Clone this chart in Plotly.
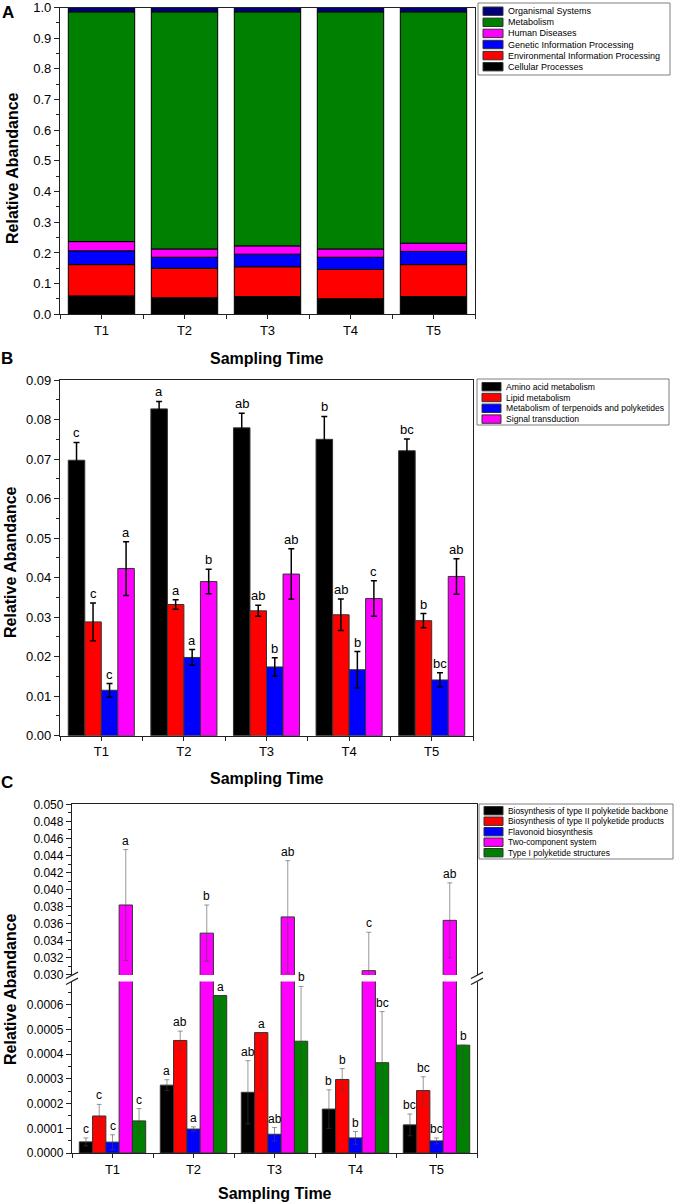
import plotly.graph_objects as go

W, H = 675, 1204
FONT = "Liberation Sans, Arial, sans-serif"

def fx(p):
    return p / W

def fy(p):
    return 1 - p / H

# ---------------- data ----------------
times = ["T1", "T2", "T3", "T4", "T5"]

# Panel A (stacked, bottom -> top)
a_names = ["Cellular Processes", "Environmental Information Processing",
           "Genetic Information Processing", "Human Diseases",
           "Metabolism", "Organismal Systems"]
a_cellular = [0.060, 0.054, 0.058, 0.051, 0.058]
a_environmental = [0.102, 0.096, 0.097, 0.095, 0.104]
a_genetic = [0.045, 0.036, 0.041, 0.040, 0.043]
a_human = [0.030, 0.027, 0.027, 0.027, 0.027]
a_metabolism = [0.749, 0.773, 0.763, 0.773, 0.754]
a_organismal = [0.014, 0.014, 0.014, 0.014, 0.014]
a_colors = ["#000000", "#FF0000", "#0000FF", "#FF00FF", "#008000", "#00007F"]

# Panel B
b_names = ["Amino acid metabolism", "Lipid metabolism",
           "Metabolism of terpenoids and polyketides", "Signal transduction"]
b_amino = [0.0697, 0.0827, 0.0779, 0.0750, 0.0721]
b_amino_err = [0.0045, 0.0019, 0.0037, 0.0058, 0.0030]
b_lipid = [0.0288, 0.0332, 0.0316, 0.0306, 0.0291]
b_lipid_err = [0.0048, 0.0012, 0.0014, 0.0040, 0.0018]
b_terp = [0.0115, 0.0198, 0.0174, 0.0167, 0.0141]
b_terp_err = [0.0017, 0.0020, 0.0023, 0.0046, 0.0018]
b_signal = [0.0423, 0.0390, 0.0409, 0.0347, 0.0403]
b_signal_err = [0.0068, 0.0031, 0.0064, 0.0045, 0.0045]
b_amino_sig = ["c", "a", "ab", "b", "bc"]
b_lipid_sig = ["c", "a", "ab", "ab", "b"]
b_terp_sig = ["c", "a", "b", "b", "bc"]
b_signal_sig = ["a", "b", "ab", "c", "ab"]
b_colors = ["#000000", "#FF0000", "#0000FF", "#FF00FF"]

# Panel C
c_names = ["Biosynthesis of type II polyketide backbone",
           "Biosynthesis of type II polyketide products",
           "Flavonoid biosynthesis", "Two-component system",
           "Type I polyketide structures"]
c_backbone = [0.000045, 0.000275, 0.000246, 0.000178, 0.000114]
c_backbone_err = [0.000016, 0.000022, 0.000128, 0.000078, 0.000044]
c_products = [0.000150, 0.000456, 0.000488, 0.000298, 0.000253]
c_products_err = [0.000047, 0.000038, 0.000231, 0.000044, 0.000056]
c_flavonoid = [0.000044, 0.000097, 0.000076, 0.000061, 0.000049]
c_flavonoid_err = [0.000030, 0.000009, 0.000027, 0.000026, 0.000012]
c_twocomp = [0.0382, 0.0349, 0.0368, 0.0305, 0.0364]
c_twocomp_err = [0.0065, 0.0033, 0.0066, 0.0045, 0.0044]
c_type1 = [0.000130, 0.000638, 0.000453, 0.000366, 0.000437]
c_type1_err = [0.000050, 0.000420, 0.000222, 0.000207, 0.000336]
c_backbone_sig = ["c", "a", "ab", "b", "bc"]
c_products_sig = ["c", "ab", "a", "b", "bc"]
c_flavonoid_sig = ["c", "a", "ab", "b", "bc"]
c_twocomp_sig = ["a", "b", "ab", "c", "ab"]
c_type1_sig = ["c", "a", "b", "bc", "b"]
c_colors = ["#000000", "#FF0000", "#0000FF", "#FF00FF", "#008000"]

# ---------------- figure ----------------
xpos = list(range(1, len(times) + 1))
fig = go.Figure()
annotations = []
shapes = []

# Panel A stacked bars
a_series = [a_cellular, a_environmental, a_genetic, a_human, a_metabolism, a_organismal]
base = [0.0] * len(times)
for name, vals, col in zip(a_names, a_series, a_colors):
    fig.add_trace(go.Bar(x=xpos, y=vals, base=list(base), name=name,
                         marker=dict(color=col, line=dict(color="#000000", width=1)),
                         width=0.8, offset=-0.4, xaxis="x", yaxis="y", showlegend=False))
    base = [b + v for b, v in zip(base, vals)]

# Panel B grouped bars
b_series = [(b_amino, b_amino_err, b_amino_sig), (b_lipid, b_lipid_err, b_lipid_sig),
            (b_terp, b_terp_err, b_terp_sig), (b_signal, b_signal_err, b_signal_sig)]
nb = len(b_series)
bw = 0.8 / nb
for k, ((vals, errs, sig), name, col) in enumerate(zip(b_series, b_names, b_colors)):
    off = -0.4 + k * bw
    fig.add_trace(go.Bar(x=xpos, y=vals, name=name, width=bw, offset=off,
                         marker=dict(color=col, line=dict(color="#333333", width=1)),
                         error_y=dict(type="data", array=errs, color="#000000",
                                      thickness=1.5, width=3),
                         xaxis="x2", yaxis="y2", showlegend=False))
    for i in range(len(times)):
        annotations.append(dict(x=xpos[i] + off + bw / 2, y=vals[i] + errs[i],
                                xref="x2", yref="y2", text=sig[i], showarrow=False,
                                yanchor="bottom", yshift=0,
                                font=dict(size=13, color="#000000", family=FONT)))

# Panel C broken axis (upper: x3/y3, lower: x4/y4)
C_LOW_MAX = 0.000695
C_UP_MAX = 0.05001
C_UP_RANGE = [0.02999, C_UP_MAX]
c_series = [(c_backbone, c_backbone_err, c_backbone_sig),
            (c_products, c_products_err, c_products_sig),
            (c_flavonoid, c_flavonoid_err, c_flavonoid_sig),
            (c_twocomp, c_twocomp_err, c_twocomp_sig),
            (c_type1, c_type1_err, c_type1_sig)]
nc = len(c_series)
cw = 0.82 / nc
for k, ((vals, errs, sig), name, col) in enumerate(zip(c_series, c_names, c_colors)):
    off = -0.41 + k * cw
    for xa, ya, ymax in (("x3", "y3", C_UP_MAX), ("x4", "y4", C_LOW_MAX)):
        # an upper whisker that would leave the axis segment is not drawn
        up = [e if v + e <= ymax else 0 for v, e in zip(vals, errs)]
        fig.add_trace(go.Bar(x=xpos, y=vals, name=name, width=cw, offset=off,
                             marker=dict(color=col, line=dict(color="#333333", width=1)),
                             error_y=dict(type="data", symmetric=False, array=up,
                                          arrayminus=errs,
                                          color="rgba(70,70,70,0.55)",
                                          thickness=1, width=2.5),
                             xaxis=xa, yaxis=ya, showlegend=False))
    for i in range(len(times)):
        v, e = vals[i], errs[i]
        if v > C_LOW_MAX:
            ref = "y3"
            top = v + e
        else:
            ref = "y4"
            top = v + e if v + e <= C_LOW_MAX else v
        annotations.append(dict(x=xpos[i] + off + cw / 2, y=top, xref="x3" if ref == "y3" else "x4",
                                yref=ref, text=sig[i], showarrow=False, yanchor="bottom",
                                yshift=0, font=dict(size=12, color="#000000", family=FONT)))

# ---------------- axes ----------------
LINE = "#222222"
tickfont = dict(size=13, color="#000000", family=FONT)
minor_x = dict(tickvals=[p - 0.5 for p in xpos] + [xpos[-1] + 0.5], ticklen=4,
               tickcolor=LINE, ticks="outside")

def xax(dom, anchor, **kw):
    d = dict(domain=dom, anchor=anchor, range=[0.5, len(times) + 0.5],
             tickmode="array", tickvals=xpos, ticktext=times, ticks="outside",
             ticklen=4, tickcolor=LINE, showline=True, linecolor=LINE, linewidth=1.3,
             showgrid=False, zeroline=False, tickfont=tickfont, minor=minor_x,
             automargin=False)
    d.update(kw)
    return d

def yax(dom, anchor, rng, dtick, fmt, minor_dtick, size=13, **kw):
    d = dict(domain=dom, anchor=anchor, range=rng, tickmode="linear", tick0=0,
             dtick=dtick, tickformat=fmt, ticks="outside", ticklen=5, tickcolor=LINE,
             showline=True, mirror=True, linecolor=LINE, linewidth=1.3,
             showgrid=False, zeroline=False, automargin=False,
             ticklabeloverflow="allow",
             tickfont=dict(size=size, color="#000000", family=FONT),
             minor=dict(dtick=minor_dtick, tick0=0, ticks="outside", ticklen=3,
                        tickcolor=LINE))
    d.update(kw)
    return d

xA = [fx(60), fx(475)]
xB = [fx(60), fx(473)]
xC = [fx(72), fx(477)]

layout_axes = dict(
    xaxis=xax(xA, "y", mirror=True),
    yaxis=yax([fy(314.3), fy(7.5)], "x", [0, 1.0001], 0.1, ".1f", 0.05),
    xaxis2=xax(xB, "y2", mirror=True),
    yaxis2=yax([fy(735.7), fy(380)], "x2", [0, 0.09001], 0.01, ".2f", 0.005),
    xaxis3=xax(xC, "y3", side="top", showticklabels=False, ticks="",
               minor=dict(ticks="")),
    yaxis3=yax([fy(975), fy(804.3)], "x3", C_UP_RANGE, 0.002, ".3f", 0.001, size=12),
    xaxis4=xax(xC, "y4"),
    yaxis4=yax([fy(1153), fy(981.5)], "x4", [0, C_LOW_MAX], 0.0001, ".4f", 0.00005, size=12),
)

# ---------------- titles / labels ----------------
def text(x, y, s, size, bold=False, angle=0, anchor="center"):
    annotations.append(dict(x=fx(x), y=fy(y), xref="paper", yref="paper",
                            text=f"<b>{s}</b>" if bold else s, showarrow=False,
                            textangle=angle, xanchor=anchor, yanchor="middle",
                            font=dict(size=size, color="#000000", family=FONT)))

text(8, 13, "A", 17, bold=True)
text(7, 358, "B", 17, bold=True)
text(7, 782, "C", 17, bold=True)
text(267, 358, "Sampling Time", 16, bold=True)
text(267, 778, "Sampling Time", 16, bold=True)
text(275, 1193, "Sampling Time", 16, bold=True)
text(12, 168, "Relative Abandance", 16, bold=True, angle=-90)
text(10, 562, "Relative Abandance", 16, bold=True, angle=-90)
text(10, 989, "Relative Abandance", 16, bold=True, angle=-90)

# ---------------- legends (drawn) ----------------
def legend(names, colors, box, y_first, dy, sw_x0, sw_x1, size=9):
    shapes.append(dict(type="rect", xref="paper", yref="paper",
                       x0=fx(box[0]), x1=fx(box[1]), y0=fy(box[3]), y1=fy(box[2]),
                       line=dict(color="#7f7f7f", width=1), fillcolor="#ffffff"))
    for j, (nm, col) in enumerate(zip(names, colors)):
        yc = y_first + j * dy
        shapes.append(dict(type="rect", xref="paper", yref="paper",
                           x0=fx(sw_x0), x1=fx(sw_x1), y0=fy(yc + 4.2), y1=fy(yc - 4.2),
                           line=dict(color="#333333", width=1), fillcolor=col))
        annotations.append(dict(x=fx(sw_x1 + 2.5), y=fy(yc), xref="paper", yref="paper",
                                text=nm, showarrow=False, xanchor="left", yanchor="middle",
                                font=dict(size=size, color="#000000", family=FONT)))

legend(a_names[::-1], a_colors[::-1], (478, 670, 3, 75), 11.2, 11.1, 483, 503, size=9)
legend(b_names, b_colors, (477, 669, 379, 425), 386.7, 10.8, 482, 501, size=8.6)
legend(c_names, c_colors, (479, 673, 804, 859), 810.7, 10.5, 484, 503, size=8.4)

# ---------------- break marks ----------------
for xb in (72, 477):
    for yb in (975.3, 981.3):
        shapes.append(dict(type="line", xref="paper", yref="paper",
                           x0=fx(xb - 6), y0=fy(yb + 3.2), x1=fx(xb + 6), y1=fy(yb - 3.2),
                           line=dict(color=LINE, width=1.2)))

fig.update_layout(
    width=W, height=H, autosize=False,
    margin=dict(l=0, r=0, t=0, b=0, pad=0),
    paper_bgcolor="#ffffff", plot_bgcolor="#ffffff",
    barmode="overlay", showlegend=False, hovermode=False,
    font=dict(family=FONT, color="#000000"),
    annotations=annotations, shapes=shapes,
    **layout_axes,
)

fig.write_html("out.html", config={"displayModeBar": False},
               post_script="document.body.style.margin='0';document.body.style.overflow='hidden';")
